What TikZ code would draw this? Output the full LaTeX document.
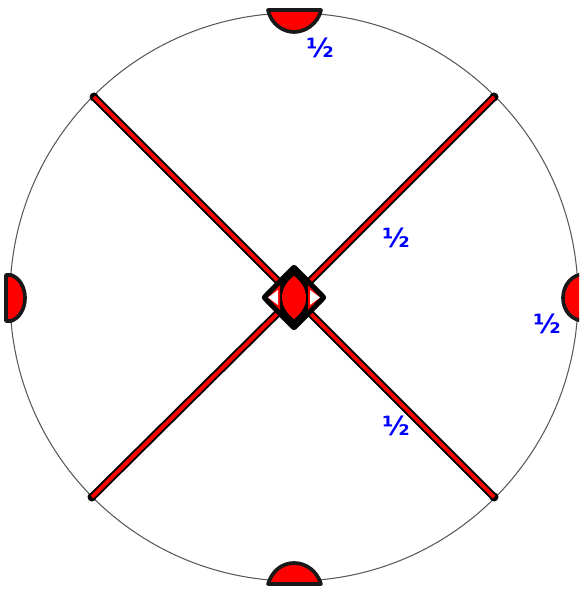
\documentclass[tikz,border=0pt]{standalone}
\usepackage{fontspec}
\newfontfamily\halffont{DejaVu Sans}
\tikzset{
  rim/.style={draw=black!65, line width=0.6pt},
  lobe/.style={draw=black!90, fill=red, line width=2.1pt, line join=round},
  half/.style={text=blue, font=\halffont\bfseries\fontsize{15}{15}\selectfont, inner sep=0pt},
  spoke/.style={draw=black, line width=4.4pt},
  spokein/.style={draw=red, line width=2.2pt},
}
\begin{document}
\begin{tikzpicture}[x=0.02cm, y=-0.02cm]

\useasboundingbox (0, 0) rectangle (579, 590);

% Outer circle
\draw[rim] (294, 297) ellipse (284 and 284);

% Ends of the spokes
\coordinate (nw) at (94, 97);
\coordinate (ne) at (494, 97);
\coordinate (sw) at (92, 497);
\coordinate (se) at (494, 497);
\coordinate (mid) at (294, 297);

% Spokes
\foreach \tip in {nw, ne, sw, se} {
  \fill (\tip) circle (4.5);
  \draw[spoke] (\tip) -- (mid);
  \draw[spokein] (\tip) -- (mid);
}

% Lobes on the rim
\draw[lobe] (268, 10) -- (321, 10) .. controls (318, 24) and (305, 32) .. (294, 32)
  .. controls (283, 32) and (271, 24) .. (268, 10) -- cycle;
\draw[lobe] (268, 584) -- (321, 584) .. controls (317, 571) and (306, 563) .. (294, 563)
  .. controls (282, 563) and (272, 571) .. (268, 584) -- cycle;
\draw[lobe] (6, 275) -- (6, 321) -- (11, 321) .. controls (20, 318) and (25, 308) .. (25, 298)
  .. controls (25, 288) and (20, 278) .. (11, 275) -- cycle;
\begin{scope}
\clip (0, 0) rectangle (579, 590);
\draw[lobe] (585, 274) .. controls (572, 274) and (563, 285) .. (563, 298)
  .. controls (563, 311) and (572, 321) .. (585, 321) -- cycle;
\end{scope}

% Centre piece
\draw[draw=black, fill=black, line width=3.6pt, line join=round]
  (265, 297.5) -- (294, 268) -- (323, 297.5) -- (294, 327) -- cycle;
\fill[red] (268, 297.5) -- (280, 285) -- (280, 310) -- cycle;
\fill[white] (268, 297.5) -- (278, 290) -- (278, 305) -- cycle;
\fill[red] (320, 297.5) -- (308, 285) -- (308, 310) -- cycle;
\fill[white] (320, 297.5) -- (310, 290) -- (310, 305) -- cycle;
\fill[red] (294, 276) .. controls (278, 288) and (278, 307) .. (294, 319)
  .. controls (310, 307) and (310, 288) .. (294, 276) -- cycle;

% Labels
\node[half] (top) at (320, 48) {½};
\node[half] (arm) at (396, 238) {½};
\node[half] (right) at (547, 324) {½};
\node[half] (low) at (396, 426) {½};

\end{tikzpicture}
\end{document}
